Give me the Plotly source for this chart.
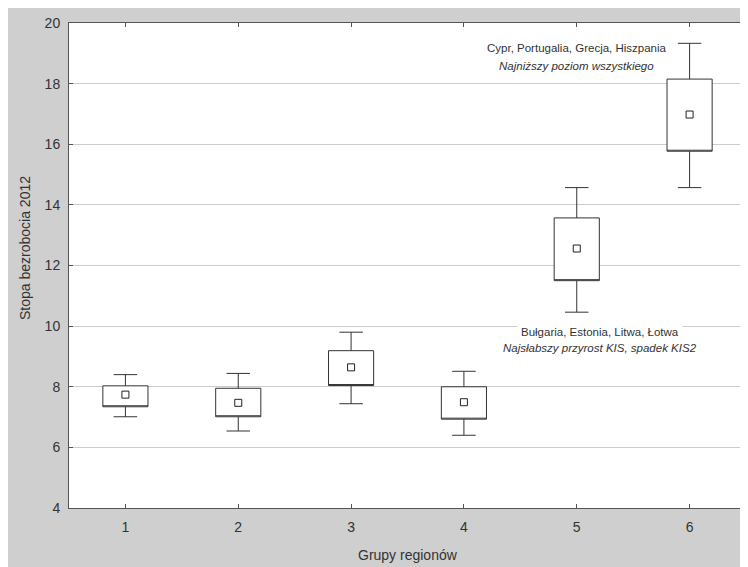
import plotly.graph_objects as go

# Data
grupy = [1, 2, 3, 4, 5, 6]
dolny_wasik = [7.01, 6.54, 7.44, 6.40, 10.46, 14.57]
q1 = [7.34, 7.01, 8.04, 6.93, 11.50, 15.77]
srednia = [7.74, 7.47, 8.64, 7.49, 12.56, 16.98]
q3 = [8.03, 7.95, 9.19, 8.00, 13.57, 18.15]
gorny_wasik = [8.40, 8.44, 9.80, 8.51, 14.57, 19.33]

y_ticks = [4, 6, 8, 10, 12, 14, 16, 18, 20]
x_ticks = [1, 2, 3, 4, 5, 6]

opis_gora = ["Cypr, Portugalia, Grecja, Hiszpania", "Najniższy poziom wszystkiego"]
opis_dol = ["Bułgaria, Estonia, Litwa, Łotwa", "Najsłabszy przyrost KIS, spadek KIS2"]

FONT = "Liberation Sans, Arial, sans-serif"
TXT = "#333333"
FRAME = "#555555"
GRAY = "#cfcfcf"

fig = go.Figure()

fig.add_trace(go.Box(
    x=grupy,
    q1=q1,
    median=q1,
    q3=q3,
    lowerfence=dolny_wasik,
    upperfence=gorny_wasik,
    width=0.4,
    whiskerwidth=0.52,
    fillcolor="white",
    line=dict(color="#333333", width=1),
    boxpoints=False,
    showlegend=False,
    hoverinfo="skip",
))

fig.add_trace(go.Scatter(
    x=grupy,
    y=srednia,
    mode="markers",
    marker=dict(symbol="square-open", size=7, color="#222222", line=dict(width=1)),
    showlegend=False,
    hoverinfo="skip",
))

# figure 740 x 559, placed at (8, 8) by the page margin; plot area in figure px: x 61..738, y 15..500
W, H = 740, 559
L, R, T, B = 61, 2, 15, 59
PW = W - L - R
PH = H - T - B


def px_x(p):
    return (p - L) / PW


def px_y(p):
    return (H - B - p) / PH


annotations = [
    dict(x=5.0, y=19.17, xref="x", yref="y", text=opis_gora[0], showarrow=False,
         font=dict(family=FONT, size=11.5, color=TXT), xanchor="center", yanchor="middle"),
    dict(x=5.0, y=18.58, xref="x", yref="y", text="<i>" + opis_gora[1] + "</i>", showarrow=False,
         font=dict(family=FONT, size=11.5, color=TXT), xanchor="center", yanchor="middle"),
    dict(x=5.21, y=9.80, xref="x", yref="y", text=opis_dol[0], showarrow=False,
         font=dict(family=FONT, size=11.5, color=TXT), xanchor="center", yanchor="middle",
         bgcolor="white", borderpad=3),
    dict(x=5.21, y=9.27, xref="x", yref="y", text="<i>" + opis_dol[1] + "</i>", showarrow=False,
         font=dict(family=FONT, size=11.5, color=TXT), xanchor="center", yanchor="middle",
         bgcolor="white", borderpad=2),
    dict(x=px_x(17), y=px_y(240), xref="paper", yref="paper", text="Stopa bezrobocia 2012",
         textangle=-90, showarrow=False, font=dict(family=FONT, size=14, color=TXT),
         xanchor="center", yanchor="middle"),
    dict(x=0.5, y=px_y(547), xref="paper", yref="paper", text="Grupy regionów",
         showarrow=False, font=dict(family=FONT, size=14, color=TXT),
         xanchor="center", yanchor="middle"),
]

fig.update_layout(
    width=W,
    height=H,
    margin=dict(l=L, r=R, t=T, b=B),
    paper_bgcolor=GRAY,
    plot_bgcolor="white",
    font=dict(family=FONT, size=14, color=TXT),
    annotations=annotations,
)

fig.update_xaxes(
    range=[0.5, 6.5],
    tickvals=x_ticks,
    ticktext=[str(v) for v in x_ticks],
    ticks="inside",
    ticklen=4,
    tickcolor=FRAME,
    showline=True,
    linecolor=FRAME,
    linewidth=1,
    mirror="ticks",
    showgrid=False,
    zeroline=False,
    ticklabelstandoff=6,
    tickfont=dict(family=FONT, size=14, color=TXT),
)

fig.update_yaxes(
    range=[4, 20],
    tickvals=y_ticks,
    ticktext=[str(v) for v in y_ticks],
    ticks="inside",
    ticklen=4,
    tickcolor=FRAME,
    showline=True,
    linecolor=FRAME,
    linewidth=1,
    mirror="ticks",
    showgrid=True,
    gridcolor="#cccccc",
    gridwidth=1,
    zeroline=False,
    ticklabelstandoff=5,
    tickfont=dict(family=FONT, size=14, color=TXT),
)

fig.write_html("out.html")
